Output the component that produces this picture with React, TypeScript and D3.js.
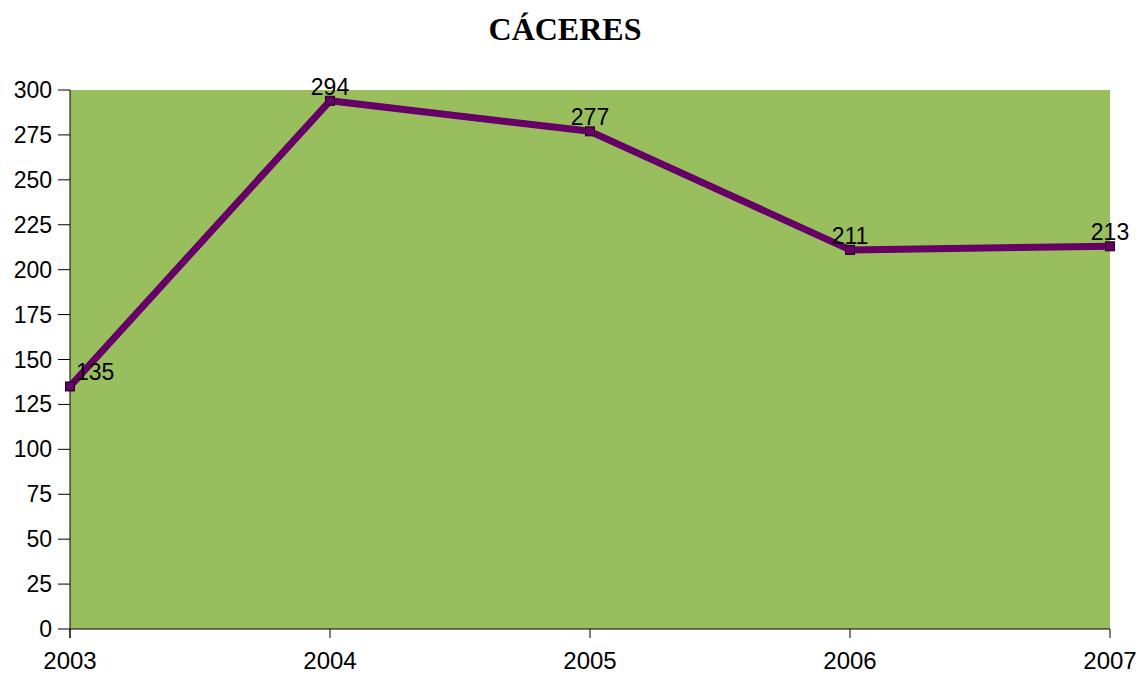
import React from "react";
import * as d3 from "d3";

const years = ["2003", "2004", "2005", "2006", "2007"];
const values = [135, 294, 277, 211, 213];
const yTicks = [0, 25, 50, 75, 100, 125, 150, 175, 200, 225, 250, 275, 300];
const title = "CÁCERES";

export default function App() {
  const W = 1141, H = 675;
  const left = 70, right = 1110, top = 90, bottom = 629;
  const x = d3.scalePoint<string>().domain(years).range([left, right]);
  const y = d3.scaleLinear().domain([0, 300]).range([bottom, top]);
  const line = d3.line<number>().x((_, i) => x(years[i])!).y((d) => y(d));
  const font = "'Liberation Sans', Arial, sans-serif";
  return (
    <svg width={W} height={H} style={{ position: "absolute", left: 0, top: 0 }}>
      <rect width={W} height={H} fill="#ffffff" />
      <text x={565} y={40} textAnchor="middle" fontFamily="'Liberation Serif', 'Times New Roman', serif" fontWeight="bold" fontSize={32}>{title}</text>
      <rect x={left} y={top} width={right - left} height={bottom - top} fill="#98BE5E" />
      <line x1={left} x2={left} y1={top} y2={bottom + 9} stroke="#000" strokeWidth={1} />
      <line x1={left} x2={right} y1={bottom} y2={bottom} stroke="#000" strokeWidth={1.2} />
      {yTicks.map((t) => (
        <g key={t}>
          <line x1={left - 12} x2={left} y1={y(t)} y2={y(t)} stroke="#000" />
          <text x={52} y={y(t) + 8} textAnchor="end" fontFamily={font} fontSize={23}>{t}</text>
        </g>
      ))}
      {years.map((yr) => (
        <g key={yr}>
          <line x1={x(yr)!} x2={x(yr)!} y1={bottom} y2={bottom + 9} stroke="#000" />
          <text x={x(yr)!} y={669} textAnchor="middle" fontFamily={font} fontSize={24}>{yr}</text>
        </g>
      ))}
      <path d={line(values)!} fill="none" stroke="#660066" strokeWidth={7} strokeLinejoin="round" />
      {values.map((v, i) => (
        <rect key={i} x={x(years[i])! - 4.5} y={y(v) - 4.5} width={9} height={9} fill="#660066" stroke="#1a001a" strokeWidth={1} />
      ))}
      {values.map((v, i) => (
        <text key={"l" + i} x={i === 0 ? x(years[i])! + 6 : x(years[i])!} y={y(v) - 6} textAnchor={i === 0 ? "start" : "middle"} fontFamily={font} fontSize={23}>{v}</text>
      ))}
    </svg>
  );
}
